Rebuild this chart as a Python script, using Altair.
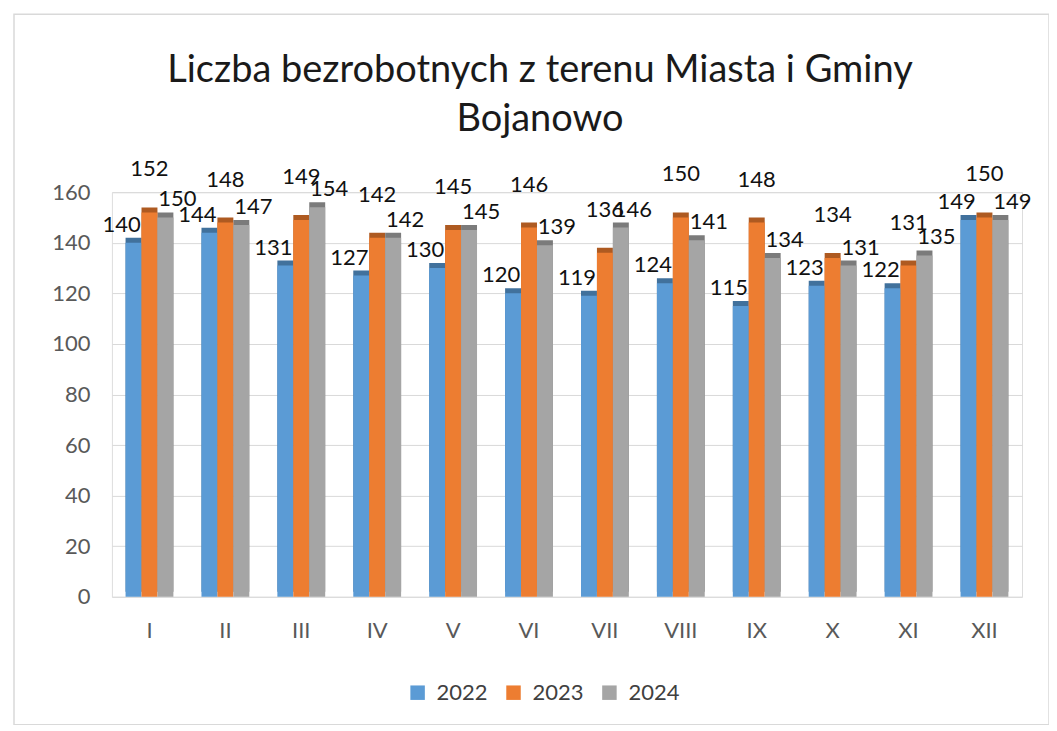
import altair as alt
import pandas as pd

months = ["I", "II", "III", "IV", "V", "VI", "VII", "VIII", "IX", "X", "XI", "XII"]
years = ["2022", "2023", "2024"]
v2022 = [140, 144, 131, 127, 130, 120, 119, 124, 115, 123, 122, 149]
v2023 = [152, 148, 149, 142, 145, 146, 136, 150, 148, 134, 131, 150]
v2024 = [150, 147, 154, 142, 145, 139, 146, 141, 134, 131, 135, 149]

rows = []
for y, vals in zip(years, [v2022, v2023, v2024]):
    for m, v in zip(months, vals):
        rows.append({"month": m, "year": y, "value": v})
df = pd.DataFrame(rows)

FONT = "Lato"
colors = ["#5b9bd5", "#ed7d31", "#a5a5a5"]
dark = ["#41719c", "#ae5a21", "#7b7b7b"]

xenc = alt.X("month:N", sort=months,
             scale=alt.Scale(paddingInner=0.37, paddingOuter=0.18),
             axis=alt.Axis(title=None, labelAngle=0, labelFontSize=22, labelColor="#595959",
                           labelFont=FONT, domain=False, ticks=False, labelPadding=24))
yenc = alt.Y("value:Q", scale=alt.Scale(domain=[0, 160]),
             axis=alt.Axis(title=None, values=list(range(0, 161, 20)), labelFontSize=22,
                           labelColor="#595959", labelFont=FONT, domain=False, ticks=False,
                           labelPadding=22, gridColor="#d9d9d9", gridWidth=1))
xoff = alt.XOffset("year:N", sort=years)

base = alt.Chart(df)

shadow = base.mark_bar(yOffset=-5, y2Offset=-5).encode(
    x=xenc, y=yenc, xOffset=xoff,
    color=alt.Color("year:N", scale=alt.Scale(domain=years, range=dark), legend=None),
)

bars = base.mark_bar().encode(
    x=xenc, y=yenc, xOffset=xoff,
    color=alt.Color("year:N", scale=alt.Scale(domain=years, range=colors),
                    legend=alt.Legend(title=None, orient="none", direction="horizontal",
                                      legendX=295, legendY=490, symbolType="square",
                                      symbolSize=210, symbolStrokeWidth=0, symbolOffset=0,
                                      labelFontSize=22, labelFont=FONT, labelColor="#404040",
                                      labelOffset=8, columnPadding=14)),
)

def label_layer(year, dx, dy):
    return base.transform_filter(alt.datum.year == year).mark_text(
        baseline="bottom", dx=dx, dy=dy, fontSize=22, font=FONT, color="#111111"
    ).encode(x=xenc, y=yenc, xOffset=xoff, text="value:Q")

labels = [label_layer("2022", -12, -6), label_layer("2023", 0, -31), label_layer("2024", 12, -6)]

border = alt.Chart(pd.DataFrame({"a": [0]})).mark_rect(
    fillOpacity=0, stroke="#d9d9d9", strokeWidth=1.5
).encode(x=alt.value(-98), x2=alt.value(938), y=alt.value(-178), y2=alt.value(533))

chart = alt.layer(border, shadow, bars, *labels).resolve_scale(color="independent").properties(
    width=911, height=405,
    title=alt.Title(["Liczba bezrobotnych z terenu Miasta i Gminy", "Bojanowo"],
                    fontSize=38, font=FONT, fontWeight="normal", color="#1a1a1a",
                    anchor="middle", frame="group", dx=-27, offset=0, dy=126, lineHeight=50),
    autosize=alt.AutoSizeParams(type="none"),
    padding={"left": 104, "top": 184, "right": 27, "bottom": 128},
).configure_view(stroke=None).configure(background="white")

chart.save("out.html", embed_options={"renderer": "svg", "actions": False})
